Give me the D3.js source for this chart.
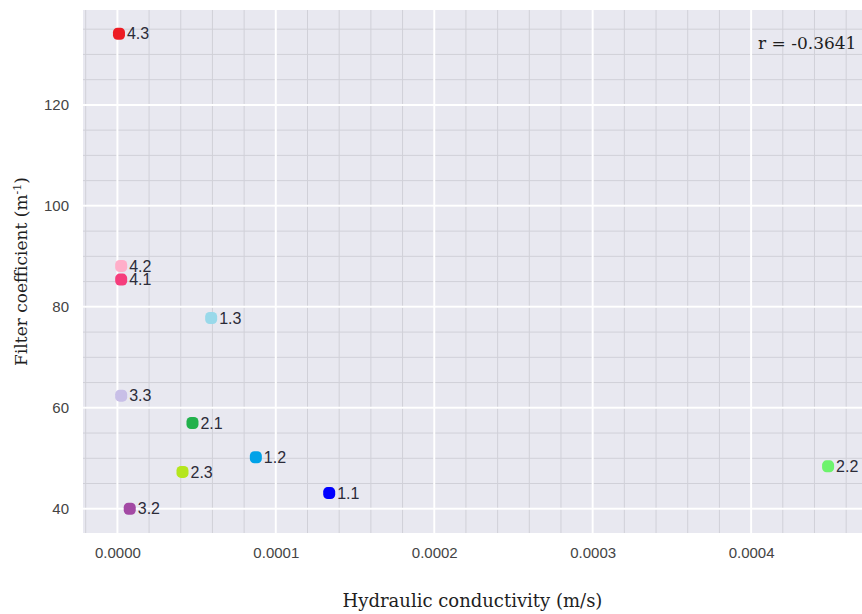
<!DOCTYPE html>
<html>
<head>
<meta charset="utf-8">
<script src="https://cdn.jsdelivr.net/npm/d3@7/dist/d3.min.js"></script>
<style>
  html, body { margin: 0; padding: 0; background: #ffffff; }
  svg { display: block; }
</style>
</head>
<body>
<svg id="chart" width="862" height="614"></svg>
<script>
// Sample identifiers, hydraulic conductivity (m/s) and filter coefficient (1/m)
const sampleIds = ["4.3", "4.2", "4.1", "1.3", "3.3", "2.1", "1.2", "2.3", "3.2", "1.1", "2.2"];
const conductivity = [0.0000010, 0.0000024, 0.0000024, 0.0000592, 0.0000024, 0.0000474, 0.0000874, 0.0000411, 0.0000078, 0.0001337, 0.0004486];
const filterCoeff = [134.1, 88.1, 85.4, 77.8, 62.4, 57.0, 50.2, 47.3, 40.0, 43.1, 48.4];
const pointColors = ["#ed1c24", "#ffaec9", "#f53d7c", "#99d9ea", "#c8bfe7", "#22b14c", "#00a2e8", "#b5e61d", "#a349a4", "#0000ff", "#6cf36c"];
const xTickValues = [0, 0.0001, 0.0002, 0.0003, 0.0004];
const yTickValues = [40, 60, 80, 100, 120];
const correlationText = "r = -0.3641";

const svg = d3.select("#chart");
const plot = { left: 83, top: 10, right: 862, bottom: 533 };

const x = d3.scaleLinear().domain([-0.0000217, 0.000470]).range([plot.left, plot.right]);
const y = d3.scaleLinear().domain([35.2, 138.8]).range([plot.bottom, plot.top]);

// Plot background
svg.append("rect")
  .attr("x", plot.left).attr("y", plot.top)
  .attr("width", plot.right - plot.left).attr("height", plot.bottom - plot.top)
  .attr("fill", "#e8e8f0");

svg.append("clipPath").attr("id", "plotclip")
  .append("rect")
  .attr("x", plot.left).attr("y", plot.top)
  .attr("width", plot.right - plot.left).attr("height", plot.bottom - plot.top);

const grid = svg.append("g").attr("clip-path", "url(#plotclip)");

// Minor grid
const xMinor = d3.range(-0.00002, 0.00048, 0.00002);
const yMinor = d3.range(35, 140, 5);
grid.append("g").selectAll("line").data(xMinor).join("line")
  .attr("x1", d => x(d)).attr("x2", d => x(d))
  .attr("y1", plot.top).attr("y2", plot.bottom)
  .attr("stroke", "#d0d0d8").attr("stroke-width", 1);
grid.append("g").selectAll("line").data(yMinor).join("line")
  .attr("y1", d => y(d)).attr("y2", d => y(d))
  .attr("x1", plot.left).attr("x2", plot.right)
  .attr("stroke", "#d0d0d8").attr("stroke-width", 1);

// Major grid
grid.append("g").selectAll("line").data(xTickValues).join("line")
  .attr("x1", d => x(d)).attr("x2", d => x(d))
  .attr("y1", plot.top).attr("y2", plot.bottom)
  .attr("stroke", "#ffffff").attr("stroke-width", 2);
grid.append("g").selectAll("line").data(yTickValues).join("line")
  .attr("y1", d => y(d)).attr("y2", d => y(d))
  .attr("x1", plot.left).attr("x2", plot.right)
  .attr("stroke", "#ffffff").attr("stroke-width", 2);

// Axes (labels only)
const xAxis = d3.axisBottom(x).tickValues(xTickValues).tickFormat(d3.format(".4f")).tickSize(0).tickPadding(14);
const yAxis = d3.axisLeft(y).tickValues(yTickValues).tickFormat(d3.format("d")).tickSize(0).tickPadding(14);

const gx = svg.append("g").attr("transform", `translate(0,${plot.bottom})`).call(xAxis);
const gy = svg.append("g").attr("transform", `translate(${plot.left},0)`).call(yAxis);
[gx, gy].forEach(g => {
  g.select(".domain").remove();
  g.selectAll("text")
    .attr("fill", "#444444")
    .style("font-family", "'Liberation Sans', Arial, sans-serif")
    .style("font-size", "15px");
});

// Points
const data = sampleIds.map((id, i) => ({ id, k: conductivity[i], f: filterCoeff[i], c: pointColors[i] }));
const pts = svg.append("g");
pts.selectAll("rect").data(data).join("rect")
  .attr("x", d => x(d.k) - 6).attr("y", d => y(d.f) - 6)
  .attr("width", 12).attr("height", 12)
  .attr("rx", 4.5).attr("ry", 4.5)
  .attr("fill", d => d.c);
pts.selectAll("text").data(data).join("text")
  .attr("x", d => x(d.k) + 8).attr("y", d => y(d.f) + 1.5)
  .attr("dominant-baseline", "middle")
  .attr("fill", "#2b2b38")
  .style("font-family", "'Liberation Sans', Arial, sans-serif")
  .style("font-size", "16px")
  .text(d => d.id);

// Correlation annotation
svg.append("text")
  .attr("x", 758).attr("y", 49)
  .attr("fill", "#1e1e1e")
  .style("font-family", "'DejaVu Serif', serif")
  .style("font-size", "17px")
  .text(correlationText);

// Axis titles
svg.append("text")
  .attr("x", (plot.left + plot.right) / 2).attr("y", 607)
  .attr("text-anchor", "middle")
  .attr("fill", "#1e1e1e")
  .style("font-family", "'DejaVu Serif', serif")
  .style("font-size", "18px")
  .text("Hydraulic conductivity (m/s)");

const yTitle = svg.append("text")
  .attr("transform", `translate(27,${(plot.top + plot.bottom) / 2}) rotate(-90)`)
  .attr("text-anchor", "middle")
  .attr("fill", "#1e1e1e")
  .style("font-family", "'DejaVu Serif', serif")
  .style("font-size", "17px");
yTitle.append("tspan").text("Filter coefficient (m");
yTitle.append("tspan").attr("baseline-shift", "super").style("font-size", "11px").text("-1");
yTitle.append("tspan").text(")");
</script>
</body>
</html>
